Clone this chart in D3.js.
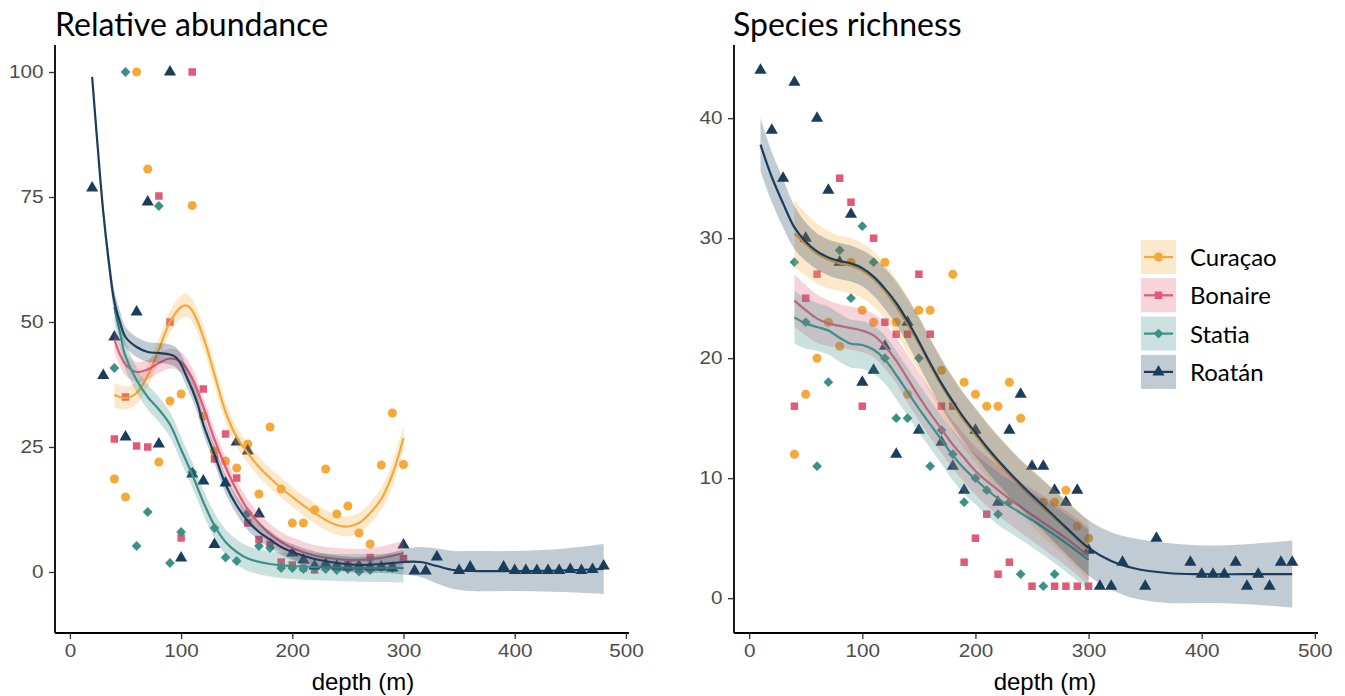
<!DOCTYPE html>
<html lang="en">
<head>
<meta charset="utf-8">
<title>Relative abundance and species richness by depth</title>
<script src="https://d3js.org/d3.v7.min.js"></script>
<style>
  body { margin: 0; background: #fff; }
  .tick text { font-family: "Liberation Sans", Arial, sans-serif; font-size: 18px; fill: #4d4d4d; }
  .tick line { stroke: #333; stroke-width: 1.3; }
  .domain { stroke: #000; stroke-width: 1.8; }
  .title { font-family: Lato, sans-serif; font-size: 32px; fill: #000; }
  .xlab { font-family: "Liberation Sans", Arial, sans-serif; font-size: 24px; fill: #000; }
  .legend text { font-family: Lato, sans-serif; font-size: 24px; fill: #000; }
</style>
</head>
<body>
<svg width="1345" height="696"></svg>
<script>
// ---- data ----
const sites = ['Curaçao', 'Bonaire', 'Statia', 'Roatán'];
const depthTicks = [0, 100, 200, 300, 400, 500];
const abundTicks = [0, 25, 50, 75, 100];
const richTicks = [0, 10, 20, 30, 40];

// relative abundance points [depth, value]
const abundCuracao = [[40,18.6],[50,15],[60,100],[70,80.6],[80,22],[90,34.2],[100,35.6],[110,73.3],[120,31.2],[130,24.2],[140,22.2],[150,20.8],[160,25.6],[170,15.6],[180,29],[190,16.6],[200,9.8],[210,9.8],[220,12.4],[230,20.6],[240,11.6],[250,13.2],[260,7.8],[270,5.6],[280,21.4],[290,31.8],[300,21.5]];
const abundBonaire = [[40,26.6],[50,35],[60,25.2],[70,25],[80,75.2],[90,50],[100,6.8],[110,100],[120,36.6],[130,22.6],[140,27.6],[150,18.8],[160,9.8],[170,6.5],[180,5.5],[190,2],[200,1.4],[210,0.8],[220,0.4],[230,1],[240,0.8],[250,1.5],[260,1],[270,2.9],[280,1],[290,1],[300,2.7]];
const abundStatia = [[40,40.8],[50,100],[60,5.2],[70,12],[80,73.2],[90,1.8],[100,8],[110,20],[130,8.8],[140,2.9],[150,2.2],[160,11.8],[170,5.2],[180,4.8],[190,0.8],[200,0.8],[210,0.6],[220,0.8],[230,0.6],[240,0.4],[250,0.6],[260,0.1],[270,0.4],[280,1],[290,0.8]];
const abundRoatan = [[20,76.8],[30,39.3],[40,47],[50,27],[60,52],[70,74],[80,25.6],[90,100],[100,2.8],[110,19.6],[120,18.2],[130,5.5],[140,17.8],[150,26],[160,24.2],[170,11.6],[200,3.8],[210,2.4],[220,1.2],[230,1.6],[240,1.2],[250,1],[260,1.2],[270,1],[280,1],[290,0.8],[300,5.4],[310,0.2],[320,0.2],[330,3],[350,0.3],[360,1],[390,1],[400,0.3],[410,0.3],[420,0.3],[430,0.3],[440,0.3],[450,0.5],[460,0.3],[470,0.5],[480,1.2]];

// smoothed fits [depth, fit, half-width of band]
const abundFitCuracao = [[40,35.4,2.5],[50,34.8,2.3],[60,35.8,2.2],[70,39.3,2.2],[80,44.5,2.2],[90,50,2.2],[100,53,2.3],[105,53.3,2.3],[110,52.3,2.3],[120,47,2.3],[130,39.5,2.2],[140,32,2.1],[150,27,2],[160,23.8,2],[170,21,2],[180,18.8,2],[190,16.8,2],[200,15,2],[210,13.3,2],[220,11.8,2],[230,10.4,2],[240,9.4,2],[250,9.1,2],[260,9.8,2],[270,11.8,2.1],[280,14.6,2.2],[290,19.5,2.4],[300,26.8,2.6]];
const abundFitBonaire = [[40,46.5,2.5],[45,43.5,2.3],[50,41.5,2.2],[60,40,2],[70,40.5,2],[80,41.8,2],[90,42.7,2],[100,42,2],[110,38.8,2],[120,33,2],[130,26.5,2],[140,21,2],[150,16.3,2],[160,12.5,2],[170,9.8,2],[180,7.6,2],[190,6,2],[200,4.8,2.1],[220,3.3,2.1],[240,2.6,2.2],[260,2.4,2.2],[280,2.8,2.3],[300,3.8,2.5]];
const abundFitStatia = [[40,53,3],[45,47.8,2.8],[50,43.2,2.7],[60,38.4,2.5],[70,35,2.5],[80,32.5,2.5],[90,29.5,2.5],[100,24.5,2.5],[110,19.5,2.5],[120,14,2.5],[130,9.3,2.5],[140,6,2.5],[150,4,2.5],[160,2.7,2.5],[180,1.6,2.5],[200,1.2,2.6],[240,0.9,2.7],[270,0.8,2.8],[300,0.8,2.9]];
const abundFitRoatan = [[20,99,1.5],[25,85,1.6],[30,72,1.8],[35,62,2],[40,54,2.2],[45,50,2.2],[50,47,2],[60,45,2],[70,44,2],[80,43.8,2],[90,43.5,2],[95,43,2],[100,41.5,2],[105,39,2],[110,36.5,2],[115,33.5,2],[120,29.5,1.9],[130,23.5,1.8],[140,17.5,1.8],[150,13.3,1.8],[160,10.2,1.8],[170,8,1.7],[180,6.5,1.7],[190,5,1.6],[200,4,1.6],[220,2.6,1.5],[240,1.8,1.5],[260,1.4,1.6],[280,1.6,1.8],[300,2,2.5],[315,2,3],[330,1.2,3.5],[345,0.4,3.8],[360,0.2,4],[400,0.2,4],[440,0.3,4.3],[480,0.6,5]];

// species richness points [depth, value]
const richCuracao = [[40,12],[50,17],[60,20],[70,23],[80,21],[90,28],[100,24],[110,23],[120,28],[130,23],[140,17],[150,24],[160,24],[170,19],[180,27],[190,18],[200,17],[210,16],[220,16],[230,18],[240,15],[260,8],[270,8],[280,9],[290,6],[300,5]];
const richBonaire = [[40,16],[50,25],[60,27],[80,35],[90,33],[100,16],[110,30],[120,23],[130,22],[140,22],[150,27],[160,22],[170,16],[180,16],[190,3],[200,5],[210,7],[220,2],[230,3],[250,1],[270,1],[280,1],[290,1],[300,1]];
const richStatia = [[40,28],[50,23],[60,11],[70,18],[80,29],[90,25],[100,31],[110,28],[120,20],[130,15],[140,15],[150,20],[160,11],[170,14],[180,12],[190,8],[200,10],[210,9],[220,7],[230,8],[240,2],[260,1],[270,2]];
const richRoatan = [[10,44],[20,39],[30,35],[40,43],[50,30],[60,40],[70,34],[80,28],[90,32],[100,18],[110,19],[120,21],[130,12],[140,23],[150,14],[170,13],[180,11],[190,9],[200,14],[220,8],[230,14],[240,17],[250,11],[260,11],[270,9],[280,8],[290,9],[300,4],[310,1],[320,1],[330,3],[350,1],[360,5],[390,3],[400,2],[410,2],[420,2],[430,3],[440,1],[450,2],[460,1],[470,3],[480,3]];

const richFitCuracao = [[40,30.4,2.8],[50,29.5,2.6],[60,28.7,2.5],[70,28.2,2.4],[80,27.9,2.3],[90,27.7,2.3],[100,27.3,2.3],[110,26.6,2.3],[120,25.6,2.3],[130,24.3,2.3],[140,22.8,2.3],[150,21.2,2.3],[160,19.4,2.3],[170,17.7,2.3],[180,16.2,2.3],[190,14.8,2.3],[200,13.6,2.3],[210,12.4,2.3],[220,11.3,2.3],[240,9.3,2.3],[260,7.5,2.4],[280,5.8,2.4],[300,4,2.5]];
const richFitBonaire = [[40,24.8,2.2],[50,24,2.1],[60,23.3,2],[70,22.9,1.9],[80,22.7,1.8],[90,22.5,1.8],[100,22.3,1.8],[110,21.9,1.8],[120,21,1.9],[130,19.8,1.9],[140,18.3,2],[150,16.8,2],[160,15.4,2],[170,14.1,2],[180,12.8,2],[190,11.7,2],[200,10.6,2],[220,9,2.1],[240,7.6,2.1],[260,6.3,2.2],[280,5,2.3],[300,3.5,2.4]];
const richFitStatia = [[40,23.4,2.2],[50,22.9,2.1],[60,22.6,2],[70,22.3,2],[80,21.7,2],[90,21.2,2],[100,21.1,2],[110,20.7,2],[120,19.9,2],[130,18.6,2],[140,17.2,2],[150,15.8,2],[160,14.5,2],[170,13.2,2],[180,11.9,2.1],[190,10.8,2.1],[200,9.9,2.1],[220,8.3,2.2],[240,7.1,2.2],[260,5.9,2.3],[280,4.6,2.4],[300,3.2,2.5]];
const richFitRoatan = [[10,37.8,2.2],[20,35.1,2.1],[30,32.9,2],[40,30.9,1.8],[50,29.7,1.6],[60,28.9,1.5],[70,28.4,1.5],[80,28.1,1.5],[90,27.9,1.5],[100,27.5,1.5],[110,26.8,1.6],[120,25.8,1.7],[130,24.6,1.8],[140,23.1,1.9],[150,21.4,2],[160,19.6,2],[170,17.9,2],[180,16.4,2],[190,15,2],[200,13.8,2],[210,12.6,2],[220,11.5,2],[240,9.5,2],[260,7.7,2.1],[280,5.9,2.2],[300,4.2,2.3],[320,3.1,2.4],[340,2.5,2.5],[370,2.1,2.5],[400,2,2.4],[440,2,2.5],[480,2,2.8]];

// ---- styling ----
const colors = { 'Curaçao': '#f4a93a', 'Bonaire': '#e15b76', 'Statia': '#3d9088', 'Roatán': '#1a3d5c' };
const shapes = {
    'Curaçao': { type: d3.symbolCircle, size: 64, rotate: 0 },
    'Bonaire': { type: d3.symbolSquare, size: 56, rotate: 0 },
    'Statia':  { type: d3.symbolSquare, size: 48, rotate: 45 },
    'Roatán':  { type: d3.symbolTriangle, size: 64, rotate: 0 }
};
const bandOpacity = 0.27;

const panels = [
    { title: 'Relative abundance', x0: 55, x1: 629, titleX: 55, xlabX: 363,
      yDomain: [-12.2, 105.4], yTicks: abundTicks,
      points: [abundCuracao, abundBonaire, abundStatia, abundRoatan],
      fits: [abundFitCuracao, abundFitBonaire, abundFitStatia, abundFitRoatan] },
    { title: 'Species richness', x0: 734, x1: 1318, titleX: 733, xlabX: 1045,
      yDomain: [-2.9, 46.1], yTicks: richTicks,
      points: [richCuracao, richBonaire, richStatia, richRoatan],
      fits: [richFitCuracao, richFitBonaire, richFitStatia, richFitRoatan] }
];
const plotTop = 45, plotBottom = 633;

const svg = d3.select('svg');

function symbolPath(site) {
    return d3.symbol().type(shapes[site].type).size(shapes[site].size)();
}

panels.forEach(p => {
    const x = d3.scaleLinear().domain([-13.4, 502.8]).range([p.x0, p.x1]);
    const y = d3.scaleLinear().domain(p.yDomain).range([plotBottom, plotTop]);
    const g = svg.append('g');

    // points first, smooths drawn over them
    sites.forEach((site, i) => {
        g.append('g').selectAll('path')
            .data(p.points[i])
            .join('path')
            .attr('d', symbolPath(site))
            .attr('fill', colors[site])
            .attr('transform', d => `translate(${x(d[0])},${y(d[1])}) rotate(${shapes[site].rotate})`);
    });

    sites.forEach((site, i) => {
        const area = d3.area()
            .x(d => x(d[0]))
            .y0(d => y(d[1] - d[2]))
            .y1(d => y(d[1] + d[2]))
            .curve(d3.curveCatmullRom);
        const line = d3.line()
            .x(d => x(d[0]))
            .y(d => y(d[1]))
            .curve(d3.curveCatmullRom);
        g.append('path')
            .datum(p.fits[i])
            .attr('d', area)
            .attr('fill', colors[site])
            .attr('fill-opacity', bandOpacity);
        g.append('path')
            .datum(p.fits[i])
            .attr('d', line)
            .attr('fill', 'none')
            .attr('stroke', colors[site])
            .attr('stroke-width', 2.2);
    });

    // axes
    const ax = g.append('g')
        .attr('transform', `translate(0,${plotBottom})`)
        .call(d3.axisBottom(x).tickValues(depthTicks).tickSize(6).tickSizeOuter(0).tickPadding(5));
    ax.selectAll('.tick text').attr('transform', 'scale(1.15,1)');
    const ay = g.append('g')
        .attr('transform', `translate(${p.x0},0)`)
        .call(d3.axisLeft(y).tickValues(p.yTicks).tickSize(6).tickSizeOuter(0).tickPadding(4));
    ay.selectAll('.tick text').attr('transform', 'scale(1.15,1)');
    ay.select('.domain').attr('d', `M0,${plotBottom}V${plotTop}`);
    ax.select('.domain').attr('d', `M${p.x0},0H${p.x1}`);

    svg.append('text').attr('class', 'title')
        .attr('x', p.titleX).attr('y', 36).text(p.title);
    svg.append('text').attr('class', 'xlab')
        .attr('x', p.xlabX).attr('y', 690).attr('text-anchor', 'middle').text('depth (m)');
});

// legend
const legend = svg.append('g').attr('class', 'legend').attr('transform', 'translate(1141,240)');
const keyW = 35, keyH = 34, keyStep = 38.3;
sites.forEach((site, i) => {
    const k = legend.append('g').attr('transform', `translate(0,${i * keyStep})`);
    k.append('rect').attr('width', keyW).attr('height', keyH)
        .attr('fill', colors[site]).attr('fill-opacity', bandOpacity);
    k.append('line').attr('x1', 3).attr('x2', keyW - 3)
        .attr('y1', keyH / 2).attr('y2', keyH / 2)
        .attr('stroke', colors[site]).attr('stroke-width', 2.2);
    k.append('path').attr('d', symbolPath(site)).attr('fill', colors[site])
        .attr('transform', `translate(${keyW / 2},${keyH / 2}) rotate(${shapes[site].rotate})`);
    k.append('text').attr('x', 49).attr('y', keyH / 2 + 9).text(site);
});
</script>
</body>
</html>
